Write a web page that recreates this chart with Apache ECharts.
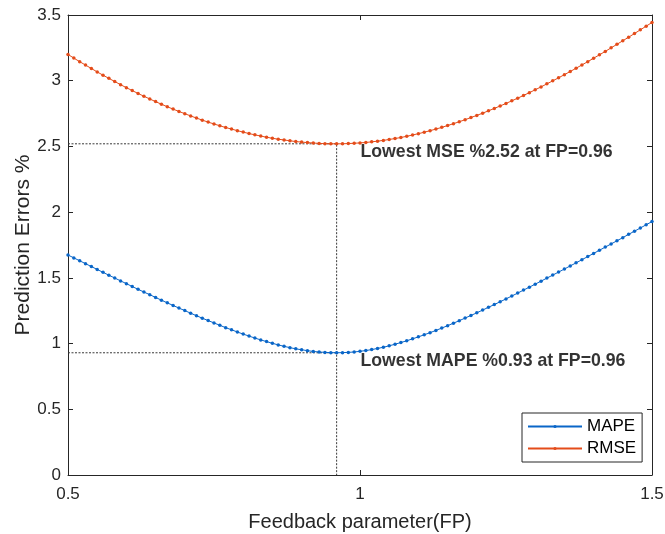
<!DOCTYPE html>
<html>
<head>
<meta charset="utf-8">
<title>Prediction errors vs feedback parameter</title>
<script src="https://cdn.jsdelivr.net/npm/echarts@6/dist/echarts.min.js"></script>
<style>
  html, body { margin: 0; padding: 0; background: #fff; }
  #chart { width: 665px; height: 534px; }
</style>
</head>
<body>
<div id="chart"></div>
<script>
// Feedback parameter sweep (0.50 .. 1.50, step 0.01)
const fp = [
  0.50,0.51,0.52,0.53,0.54,0.55,0.56,0.57,0.58,0.59,
  0.60,0.61,0.62,0.63,0.64,0.65,0.66,0.67,0.68,0.69,
  0.70,0.71,0.72,0.73,0.74,0.75,0.76,0.77,0.78,0.79,
  0.80,0.81,0.82,0.83,0.84,0.85,0.86,0.87,0.88,0.89,
  0.90,0.91,0.92,0.93,0.94,0.95,0.96,0.97,0.98,0.99,
  1.00,1.01,1.02,1.03,1.04,1.05,1.06,1.07,1.08,1.09,
  1.10,1.11,1.12,1.13,1.14,1.15,1.16,1.17,1.18,1.19,
  1.20,1.21,1.22,1.23,1.24,1.25,1.26,1.27,1.28,1.29,
  1.30,1.31,1.32,1.33,1.34,1.35,1.36,1.37,1.38,1.39,
  1.40,1.41,1.42,1.43,1.44,1.45,1.46,1.47,1.48,1.49,
  1.50
];

// MAPE (%) for each feedback parameter
const mape = [
  1.674,1.652,1.630,1.608,1.586,1.564,1.542,1.520,1.499,1.477,
  1.456,1.434,1.413,1.392,1.372,1.351,1.330,1.310,1.290,1.270,
  1.251,1.231,1.212,1.193,1.175,1.157,1.139,1.121,1.105,1.088,
  1.072,1.057,1.042,1.028,1.015,1.002,0.990,0.979,0.969,0.960,
  0.953,0.946,0.940,0.936,0.933,0.931,0.930,0.931,0.933,0.936,
  0.941,0.947,0.954,0.963,0.972,0.983,0.995,1.008,1.021,1.036,
  1.051,1.067,1.083,1.100,1.118,1.136,1.155,1.174,1.194,1.214,
  1.234,1.255,1.276,1.297,1.318,1.340,1.362,1.384,1.407,1.429,
  1.452,1.475,1.498,1.521,1.544,1.567,1.591,1.614,1.638,1.662,
  1.686,1.710,1.734,1.758,1.782,1.806,1.831,1.855,1.879,1.904,
  1.928
];

// RMSE (%) for each feedback parameter
const rmse = [
  3.200,3.172,3.145,3.119,3.093,3.067,3.042,3.018,2.994,2.970,
  2.947,2.925,2.903,2.882,2.861,2.841,2.821,2.802,2.784,2.766,
  2.749,2.732,2.716,2.700,2.685,2.671,2.657,2.644,2.632,2.620,
  2.609,2.598,2.588,2.579,2.570,2.562,2.555,2.549,2.543,2.537,
  2.533,2.529,2.526,2.523,2.521,2.520,2.520,2.520,2.522,2.524,
  2.527,2.530,2.535,2.540,2.546,2.553,2.560,2.568,2.577,2.587,
  2.597,2.608,2.620,2.632,2.645,2.659,2.673,2.688,2.703,2.720,
  2.736,2.753,2.771,2.789,2.808,2.827,2.847,2.867,2.888,2.909,
  2.931,2.953,2.976,2.999,3.022,3.046,3.070,3.095,3.120,3.145,
  3.171,3.197,3.223,3.250,3.277,3.304,3.331,3.359,3.387,3.415,
  3.443
];

// Optimum reported for both error measures
const bestFP = 0.96;
const bestMSE = 2.52;
const bestMAPE = 0.93;

const xTicks = { min: 0.5, max: 1.5, interval: 0.5 };
const yTicks = { min: 0, max: 3.5, interval: 0.5 };

const FONT = '"Liberation Sans", Arial, Helvetica, sans-serif';
const AXIS = '#262626';
const BLUE = '#0a66c8';
const ORANGE = '#e44c1a';

const pairs = vals => fp.map((x, i) => [x, vals[i]]);

const boxAxis = (pos, ticks, labels) => ({
  type: 'value',
  position: pos,
  min: ticks.min, max: ticks.max, interval: ticks.interval,
  axisLine: { show: true, onZero: false, lineStyle: { color: AXIS, width: 1 } },
  axisTick: { show: true, inside: true, length: 5, lineStyle: { color: AXIS } },
  splitLine: { show: false },
  axisLabel: { show: labels }
});

const chart = echarts.init(document.getElementById('chart'), null, { renderer: 'canvas' });

chart.setOption({
  animation: false,
  backgroundColor: '#fff',
  textStyle: { fontFamily: FONT },
  grid: { left: 68, right: 13, top: 15, bottom: 59, containLabel: false, outerBoundsMode: 'none' },
  xAxis: [
    Object.assign(boxAxis('bottom', xTicks, true), {
      name: 'Feedback parameter(FP)',
      nameLocation: 'middle',
      nameGap: 37,
      nameMoveOverlap: false,
      nameTextStyle: { fontSize: 20, color: AXIS, fontFamily: FONT },
      axisLabel: { show: true, margin: 11, fontSize: 17, color: AXIS, fontFamily: FONT }
    }),
    boxAxis('top', xTicks, false)
  ],
  yAxis: [
    Object.assign(boxAxis('left', yTicks, true), {
      name: 'Prediction Errors %',
      nameLocation: 'middle',
      nameGap: 34,
      nameMoveOverlap: false,
      nameTextStyle: { fontSize: 21, color: AXIS, fontFamily: FONT },
      axisLabel: { show: true, margin: 7, fontSize: 17, color: AXIS, fontFamily: FONT }
    }),
    boxAxis('right', yTicks, false)
  ],
  legend: {
    data: ['MAPE', 'RMSE'],
    orient: 'vertical',
    left: 522,
    top: 413,
    padding: [5, 6, 5, 5],
    itemGap: 5,
    itemWidth: 54,
    itemHeight: 4,
    borderColor: AXIS,
    borderWidth: 1,
    backgroundColor: '#fff',
    textStyle: { fontSize: 17, lineHeight: 17, color: '#000', fontFamily: FONT }
  },
  series: [
    {
      name: 'guideMSE',
      type: 'line',
      silent: true,
      symbol: 'none',
      data: [[xTicks.min, bestMSE], [bestFP, bestMSE], [bestFP, yTicks.min]],
      lineStyle: { color: '#3a3a3a', width: 1, type: [2, 1.5] },
      z: 1
    },
    {
      name: 'guideMAPE',
      type: 'line',
      silent: true,
      symbol: 'none',
      data: [[xTicks.min, bestMAPE], [bestFP, bestMAPE]],
      lineStyle: { color: '#3a3a3a', width: 1, type: [2, 1.5] },
      z: 1
    },
    {
      name: 'MAPE',
      type: 'line',
      data: pairs(mape),
      symbol: 'circle',
      symbolSize: 3.5,
      showSymbol: true,
      color: BLUE,
      itemStyle: { color: BLUE },
      lineStyle: { color: BLUE, width: 1 },
      z: 3
    },
    {
      name: 'RMSE',
      type: 'line',
      data: pairs(rmse),
      symbol: 'circle',
      symbolSize: 3.5,
      showSymbol: true,
      color: ORANGE,
      itemStyle: { color: ORANGE },
      lineStyle: { color: ORANGE, width: 1 },
      z: 3
    },
    {
      name: 'notes',
      type: 'scatter',
      silent: true,
      symbol: 'circle',
      symbolSize: 1,
      itemStyle: { color: 'rgba(0,0,0,0)' },
      data: [
        { value: [1.0, 2.455], note: 'Lowest MSE %' + bestMSE.toFixed(2) + ' at FP=' + bestFP.toFixed(2) },
        { value: [1.0, 0.864], note: 'Lowest MAPE %' + bestMAPE.toFixed(2) + ' at FP=' + bestFP.toFixed(2) }
      ],
      label: {
        show: true,
        position: 'right',
        distance: 0,
        formatter: p => p.data.note,
        fontSize: 17.7,
        fontWeight: 'bold',
        color: '#000',
        fontFamily: FONT
      },
      z: 4
    }
  ]
});
</script>
</body>
</html>
